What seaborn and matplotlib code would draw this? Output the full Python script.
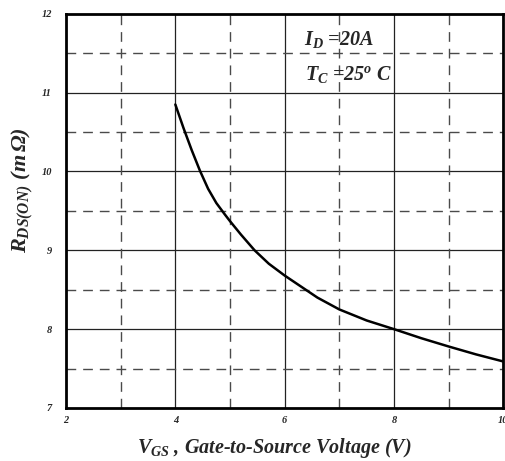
import numpy as np
import pandas as pd
import matplotlib
matplotlib.use('Agg')
import matplotlib.pyplot as plt
import seaborn as sns

# 数据
vgs = [4.0, 4.15, 4.3, 4.45, 4.6, 4.75, 4.9, 5.0, 5.2, 5.45, 5.71, 6.0, 6.3, 6.6,
       7.0, 7.5, 8.0, 8.5, 9.0, 9.5, 10.0]
rds_on = [10.85, 10.55, 10.27, 10.01, 9.78, 9.6, 9.46, 9.37, 9.2, 9.0, 8.83, 8.68, 8.54, 8.4,
          8.25, 8.11, 8.0, 7.885, 7.78, 7.68, 7.59]
x_ticks = [2, 4, 6, 8, 10]
y_ticks = [7, 8, 9, 10, 11, 12]
x_minor = [3, 5, 7, 9]
y_minor = [7.5, 8.5, 9.5, 10.5, 11.5]

sns.set_style('white')
plt.rcParams['font.family'] = ['Liberation Serif', 'DejaVu Serif']
plt.rcParams['mathtext.fontset'] = 'custom'
plt.rcParams['mathtext.rm'] = 'Liberation Serif:bold:italic'
plt.rcParams['mathtext.it'] = 'Liberation Serif:bold:italic'
plt.rcParams['mathtext.bf'] = 'Liberation Serif:bold:italic'

df = pd.DataFrame({'VGS': vgs, 'RDS': rds_on})

fig = plt.figure(figsize=(5.05, 4.61), dpi=100)
ax = fig.add_axes([0.1307, 0.115, 0.866, 0.855])

# 网格线
for xv in x_ticks[1:-1]:
    ax.axvline(xv, color='#222222', lw=0.9, zorder=1)
for yv in y_ticks[1:-1]:
    ax.axhline(yv, color='#222222', lw=0.9, zorder=1)
for xv in x_minor:
    ax.axvline(xv, color='#4a4a4a', lw=1.0, ls=(0, (7, 5)), zorder=1)
for yv in y_minor:
    ax.axhline(yv, color='#4a4a4a', lw=1.0, ls=(0, (7, 5)), zorder=1)

sns.lineplot(data=df, x='VGS', y='RDS', color='black', lw=1.8, sort=True, ax=ax, zorder=3)

ax.set_xlim(2, 10)
ax.set_ylim(7, 12)
ax.set_xticks(x_ticks)
ax.set_yticks(y_ticks)
ax.set_xticklabels([str(t) for t in x_ticks], fontsize=7.5, fontweight='bold', fontstyle='italic')
ax.set_yticklabels([str(t) for t in y_ticks], fontsize=7.5, fontweight='bold', fontstyle='italic')
ax.tick_params(axis='x', length=0, pad=6)
ax.tick_params(axis='y', length=0, pad=10)

for s in ax.spines.values():
    s.set_visible(True)
    s.set_color('black')
    s.set_linewidth(2.0)

ax.set_xlabel(r'$V_{GS}$ , Gate-to-Source Voltage (V)', fontsize=14.5,
              fontweight='bold', fontstyle='italic')
ax.xaxis.set_label_coords(0.477, -0.07)
ax.set_ylabel(r'$R_{DS(ON)}$ $(m\,\Omega)$', fontsize=16,
              fontweight='bold', fontstyle='italic')
ax.yaxis.set_label_coords(-0.072, 0.553)

ax.text(6.36, 11.67, r'$I_D$ =20A', fontsize=14.5, fontweight='bold', fontstyle='italic',
        ha='left', va='center', zorder=4)
ax.text(6.38, 11.23, r'$T_C$ =25$^o$ C', fontsize=14.5, fontweight='bold', fontstyle='italic',
        ha='left', va='center', zorder=4)

fig.savefig('out.png', dpi=100)
